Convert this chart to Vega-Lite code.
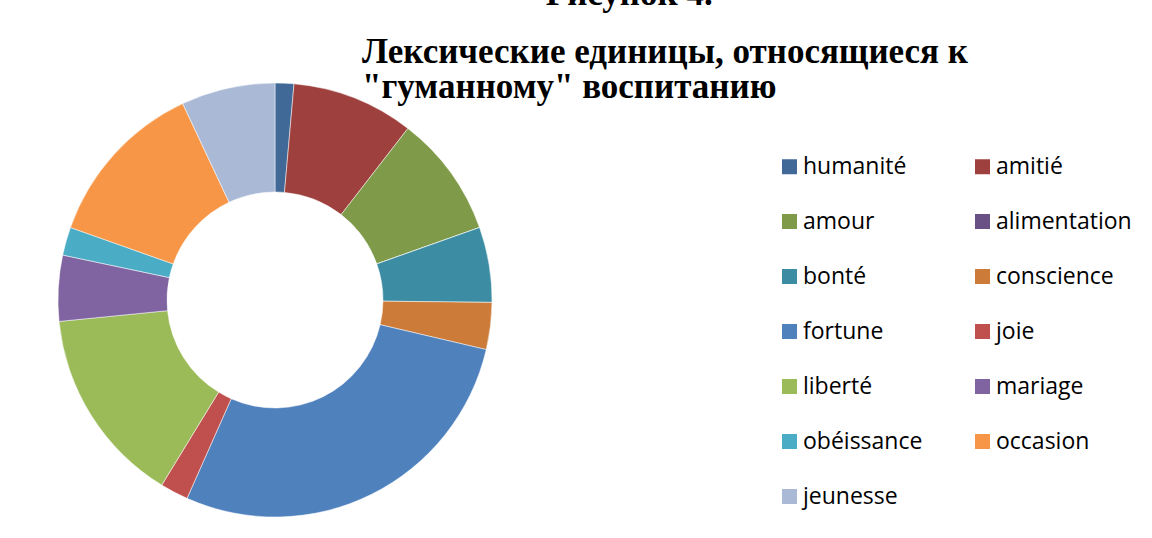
{
  "$schema": "https://vega.github.io/schema/vega-lite/v6.json",
  "width": 434,
  "height": 434,
  "autosize": {"type": "none"},
  "padding": {"left": 58, "top": 83, "right": 660, "bottom": 21},
  "background": "white",
  "title": {
    "text": "\u2060\u00a0\u00a0\u00a0\u00a0\u00a0\u00a0\u00a0\u00a0\u00a0\u00a0\u00a0\u00a0\u00a0\u00a0\u00a0\u00a0\u00a0\u00a0\u00a0\u00a0\u00a0Рисунок 4.",
    "subtitle": ["Лексические единицы, относящиеся к", "\"гуманному\" воспитанию"],
    "anchor": "start",
    "frame": "group",
    "dx": 304,
    "offset": -23,
    "font": "Liberation Serif",
    "fontSize": 35,
    "fontWeight": "bold",
    "color": "black",
    "subtitleFont": "Liberation Serif",
    "subtitleFontSize": 35,
    "subtitleFontWeight": "bold",
    "subtitleColor": "black",
    "subtitleLineHeight": 35,
    "subtitlePadding": 23
  },
  "data": {
    "values": [
      {"word": "humanité", "count": 2, "order": 1},
      {"word": "amitié", "count": 13, "order": 2},
      {"word": "amour", "count": 13, "order": 3},
      {"word": "alimentation", "count": 0, "order": 4},
      {"word": "bonté", "count": 8, "order": 5},
      {"word": "conscience", "count": 5, "order": 6},
      {"word": "fortune", "count": 40, "order": 7},
      {"word": "joie", "count": 3, "order": 8},
      {"word": "liberté", "count": 21, "order": 9},
      {"word": "mariage", "count": 7, "order": 10},
      {"word": "obéissance", "count": 3, "order": 11},
      {"word": "occasion", "count": 18, "order": 12},
      {"word": "jeunesse", "count": 10, "order": 13}
    ]
  },
  "mark": {"type": "arc", "radius": 217, "radius2": 108, "stroke": "white", "strokeWidth": 0.5},
  "encoding": {
    "theta": {"field": "count", "type": "quantitative", "stack": true},
    "order": {"field": "order", "type": "quantitative", "sort": "ascending"},
    "color": {
      "field": "word",
      "type": "nominal",
      "scale": {
        "domain": ["humanité", "amitié", "amour", "alimentation", "bonté", "conscience", "fortune", "joie", "liberté", "mariage", "obéissance", "occasion", "jeunesse"],
        "range": ["#416998", "#9E413E", "#7F9A48", "#695185", "#3C8CA3", "#CC7B38", "#4F81BD", "#C0504D", "#9BBB59", "#8064A2", "#4BACC6", "#F79646", "#A9B9D6"]
      },
      "legend": {
        "title": null,
        "orient": "none",
        "direction": "horizontal",
        "legendX": 720,
        "legendY": 72,
        "columns": 2,
        "symbolType": "square",
        "symbolSize": 225,
        "symbolStrokeWidth": 0,
        "labelFont": "Open Sans",
        "labelFontSize": 23,
        "labelColor": "#000000",
        "labelOffset": 2,
        "labelLimit": 300,
        "rowPadding": 31,
        "columnPadding": 48,
        "padding": 0
      }
    }
  },
  "config": {"view": {"stroke": null}}
}
